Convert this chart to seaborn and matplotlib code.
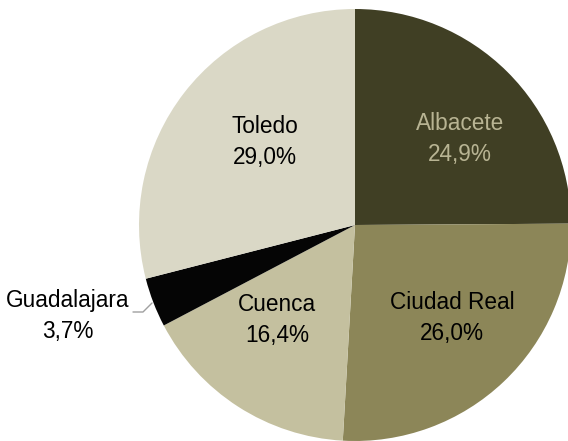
import matplotlib
matplotlib.use("Agg")
import matplotlib.pyplot as plt
import seaborn as sns

categories = ["Albacete", "Ciudad Real", "Cuenca", "Guadalajara", "Toledo"]
values = [24.9, 26.0, 16.4, 3.7, 29.0]
colors = ["#403f24", "#8c8658", "#c4c09f", "#050505", "#dad8c6"]
label_colors = ["#b8b493", "black", "black", "black", "black"]

sns.set_style("white")
plt.rcParams["font.family"] = ["Liberation Sans", "DejaVu Sans"]

W, H = 568, 441
fig = plt.figure(figsize=(W / 100, H / 100), dpi=100)
ax = fig.add_axes([0, 0, 1, 1])
cx, cy, r = 355, H - 225, 216
ax.pie(values, colors=colors, startangle=90, counterclock=False,
       center=(cx, cy), radius=r, wedgeprops=dict(linewidth=0))
ax.set_xlim(0, W)
ax.set_ylim(0, H)
ax.set_aspect("equal")
ax.axis("off")

# label positions in image pixel coords (x, y from top)
label_pos = [(460, 139), (452, 318), (277, 320), (68, 316), (265, 142)]
for cat, v, (lx, ly), lc in zip(categories, values, label_pos, label_colors):
    txt = f"{cat}\n{v:.1f}".replace(".", ",") + "%"
    ax.text(lx, H - ly, txt, ha="center", va="center", fontsize=16.3,
            color=lc, linespacing=1.4)

# leader line for Guadalajara
ax.plot([133, 143, 152], [H - 312, H - 312, H - 303], color="#a0a0a0", lw=1)

fig.savefig("out.png", dpi=100)
